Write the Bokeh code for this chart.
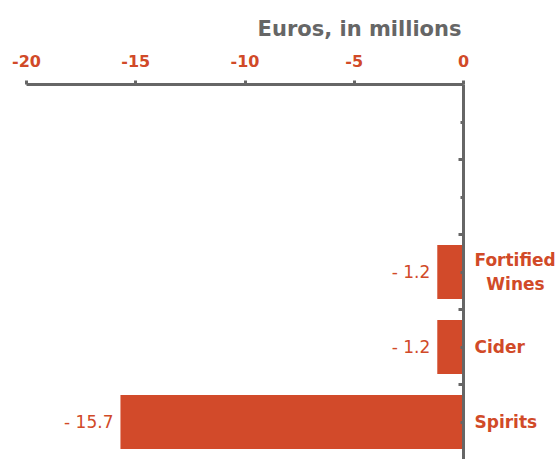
from bokeh.plotting import figure
from bokeh.models import (Range1d, LinearAxis, FixedTicker, ColumnDataSource,
                          LabelSet)
from bokeh.core.properties import value
from bokeh.embed import file_html
from bokeh.resources import INLINE

# ---- data (bottom to top) ----
categories = ["Spirits", "Cider", "Fortified Wines"]
values = [-15.7, -1.2, -1.2]
value_labels = ["- 15.7", "- 1.2", "- 1.2"]
n_slots = 5  # two empty category slots above
x_ticks = [-20, -15, -10, -5, 0]
x_tick_labels = ["-20", "-15", "-10", "-5", "0"]
axis_title = "Euros, in millions"

ORANGE = "#D24A2A"
TEXT_OR = "#D14A28"
GREY = "#666666"
FONT = "DejaVu Sans"

ys = [i + 0.5 for i in range(len(categories))]
src = ColumnDataSource(dict(y=ys, value=values, label=value_labels))

p = figure(width=559, height=459, output_backend="svg", toolbar_location=None,
           x_range=Range1d(-20, 0), y_range=Range1d(0, n_slots),
           x_axis_location=None, y_axis_location=None,
           min_border_left=26, min_border_right=96, min_border_top=84,
           min_border_bottom=0, title=axis_title)
p.outline_line_color = None
p.xgrid.visible = False
p.ygrid.visible = False
p.background_fill_color = "white"
p.border_fill_color = "white"

p.title.align = "right"
p.title.offset = 2
p.title.text_color = GREY
p.title.text_font = FONT
p.title.text_font_style = "bold"
p.title.text_font_size = "21px"
p.title.standoff = 22

p.hbar(y="y", left=0, right="value", height=0.72, source=src,
       fill_color=ORANGE, line_color=None)

# top axis
xa = LinearAxis(ticker=FixedTicker(ticks=x_ticks, minor_ticks=[]))
xa.major_label_overrides = {t: s for t, s in zip(x_ticks, x_tick_labels)}
xa.axis_line_color = GREY
xa.axis_line_width = 3
xa.major_tick_line_color = GREY
xa.major_tick_line_width = 3
xa.major_tick_in = 0
xa.major_tick_out = 4
xa.minor_tick_line_color = None
xa.major_label_text_color = TEXT_OR
xa.major_label_text_font = FONT
xa.major_label_text_font_style = "bold"
xa.major_label_text_font_size = "16px"
xa.major_label_standoff = 14
p.add_layout(xa, "above")

# right axis at x = 0: labelled ticks at category centres, longer ticks at boundaries
centers = [i + 0.5 for i in range(n_slots)]
bounds = list(range(1, n_slots))
cat_text = {}
for c, cat in zip(centers, categories + [""] * (n_slots - len(categories))):
    if " " in cat:
        a, b = cat.split(" ", 1)
        cat = a + "\n" + "\u00a0\u00a0" + b
    cat_text[c] = cat
ya = LinearAxis(ticker=FixedTicker(ticks=centers, minor_ticks=bounds))
ya.major_label_overrides = cat_text
ya.axis_line_color = GREY
ya.axis_line_width = 3
ya.major_tick_line_color = GREY
ya.major_tick_line_width = 3
ya.major_tick_in = 3
ya.major_tick_out = 0
ya.minor_tick_line_color = GREY
ya.minor_tick_line_width = 3
ya.minor_tick_in = 5
ya.minor_tick_out = 0
ya.major_label_text_color = TEXT_OR
ya.major_label_text_font = FONT
ya.major_label_text_font_style = "bold"
ya.major_label_text_font_size = "17px"
ya.major_label_standoff = 11
p.add_layout(ya, "right")

# value labels
p.add_layout(LabelSet(x="value", y="y", text="label", source=src,
                      x_offset=-7, text_align="right", text_baseline="middle",
                      text_color=TEXT_OR, text_font=value(FONT),
                      text_font_size="17px"))

open("out.html", "w").write(file_html(p, INLINE))
